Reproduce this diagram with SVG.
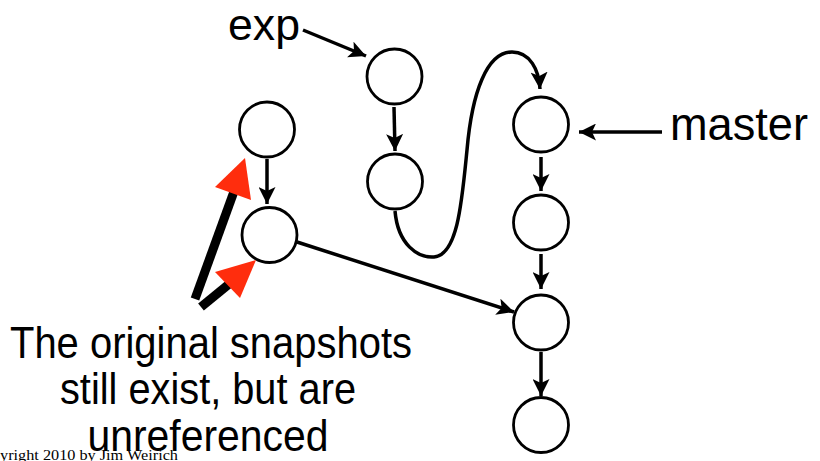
<svg xmlns="http://www.w3.org/2000/svg" width="820" height="461" viewBox="0 0 820 461">
  <style>
    .node circle { fill: #fff; stroke: #000; stroke-width: 2.8; }
    .conn { fill: none; stroke: #000; stroke-width: 3.5; marker-end: url(#ah); }
    .lbl { font-family: "Liberation Sans", Arial, sans-serif; fill: #000; }
    .thick { stroke: #000; stroke-width: 9; }
    .red { fill: #ff2d0d; }
  </style>
  <defs>
    <marker id="ah" markerUnits="userSpaceOnUse" markerWidth="19" markerHeight="17" refX="17" refY="8.5" orient="auto" viewBox="0 0 19 17">
      <path d="M0,0 L17,8.5 L0,17 L4,8.5 z" fill="#000"/>
    </marker>
  </defs>
  <rect width="820" height="461" fill="#fff"/>

  <g id="connectors">
    <path class="conn" d="M267,159 L267,204"/>
    <path class="conn" d="M394,107 L395,151"/>
    <path class="conn" d="M541,157 L541,191"/>
    <path class="conn" d="M541,254 L541,289"/>
    <path class="conn" d="M541,352 L541,396"/>
    <path class="conn" d="M303,30 L366,56"/>
    <path class="conn" d="M662,132 L579,132"/>
    <path class="conn" d="M297,242 L514,312"/>
    <path class="conn" d="M395,211 C398,245 418,258 434,257 C458,255 462,200 467,150 C472,92 487,52 512,52 C530,52 539,70 540,89"/>
  </g>

  <g id="left-1" class="node"><circle cx="267" cy="129.5" r="27.5"/></g>
  <g id="left-2" class="node"><circle cx="269.5" cy="235" r="27.5"/></g>
  <g id="exp-1" class="node"><circle cx="394.5" cy="76.5" r="27.5"/></g>
  <g id="exp-2" class="node"><circle cx="395" cy="181.5" r="27.5"/></g>
  <g id="master-1" class="node"><circle cx="541" cy="124.5" r="27.5"/></g>
  <g id="master-2" class="node"><circle cx="541" cy="222.5" r="27.5"/></g>
  <g id="master-3" class="node"><circle cx="541" cy="322.5" r="27.5"/></g>
  <g id="master-4" class="node"><circle cx="541" cy="425" r="27.5"/></g>

  <g id="label-exp"><text class="lbl" x="228" y="40" font-size="44" textLength="72" lengthAdjust="spacingAndGlyphs">exp</text></g>
  <g id="label-master"><text class="lbl" x="670" y="140" font-size="46" textLength="138" lengthAdjust="spacingAndGlyphs">master</text></g>

  <g id="pointer-arrows">
    <line class="thick" x1="195" y1="299" x2="236" y2="186"/>
    <polygon class="red" points="245,158 215,187 251,200"/>
    <line class="thick" x1="201" y1="307" x2="234" y2="280"/>
    <polygon class="red" points="256,260 215,272 240,298"/>
  </g>

  <g id="caption">
    <text class="lbl" x="211" y="358" font-size="44" text-anchor="middle" textLength="402" lengthAdjust="spacingAndGlyphs">The original snapshots</text>
    <text class="lbl" x="208" y="404" font-size="44" text-anchor="middle" textLength="296" lengthAdjust="spacingAndGlyphs">still exist, but are</text>
    <text class="lbl" x="208" y="451" font-size="44" text-anchor="middle" textLength="241" lengthAdjust="spacingAndGlyphs">unreferenced</text>
  </g>

  <g id="copyright">
    <text x="-27" y="460" font-size="15" textLength="205" lengthAdjust="spacingAndGlyphs" font-family="'Liberation Serif', 'Times New Roman', serif" fill="#000">Copyright 2010 by Jim Weirich</text>
  </g>
</svg>
